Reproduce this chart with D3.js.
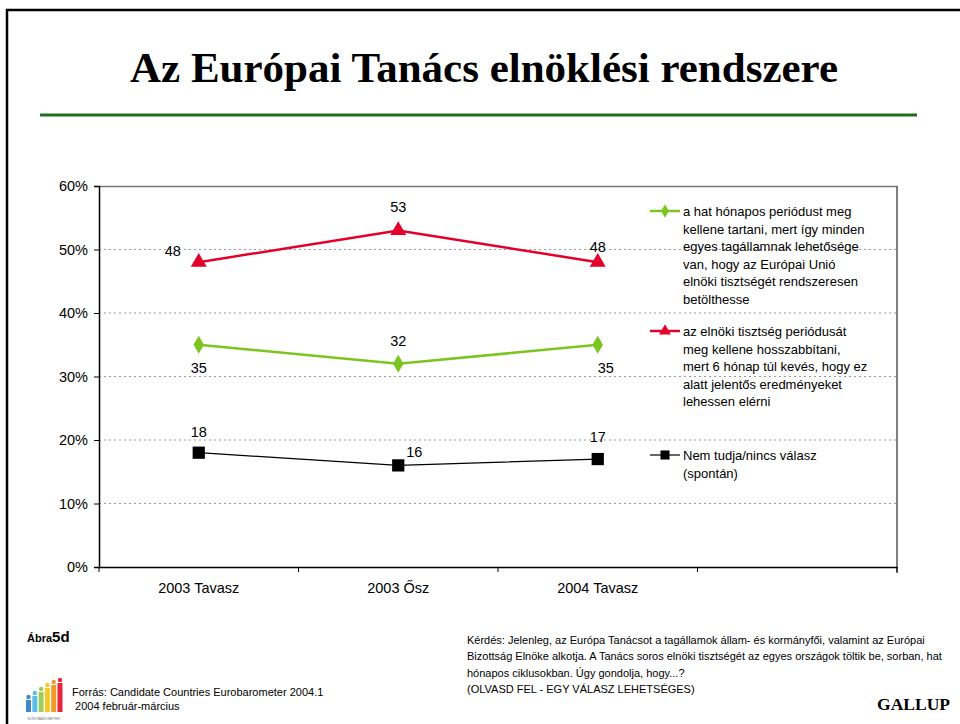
<!DOCTYPE html>
<html><head><meta charset="utf-8">
<script src="https://cdn.jsdelivr.net/npm/d3@7"></script>
<style>
html,body{margin:0;padding:0;background:#fff;}
svg{display:block;}
text{font-family:"Liberation Sans",Arial,sans-serif;}
</style></head>
<body>
<svg id="c" width="960" height="724"></svg>
<script>
const categories = ["2003 Tavasz", "2003 Ősz", "2004 Tavasz", ""];
const keepSix = [35, 32, 35];
const extend = [48, 53, 48];
const dontKnow = [18, 16, 17];
const yTicks = [0, 10, 20, 30, 40, 50, 60];
const legendGreen = ["a hat hónapos periódust meg", "kellene tartani, mert így minden", "egyes tagállamnak lehetősége", "van, hogy az Európai Unió", "elnöki tisztségét rendszeresen", "betölthesse"];
const legendRed = ["az elnöki tisztség periódusát", "meg kellene hosszabbítani,", "mert 6 hónap túl kevés, hogy ez", "alatt jelentős eredményeket", "lehessen elérni"];
const legendBlack = ["Nem tudja/nincs válasz", "(spontán)"];
const question = ["Kérdés: Jelenleg, az Európa Tanácsot a tagállamok állam- és kormányfői, valamint az Európai", "Bizottság Elnöke alkotja. A Tanács soros elnöki tisztségét az egyes országok töltik be, sorban, hat", "hónapos ciklusokban. Úgy gondolja, hogy...?", "(OLVASD FEL - EGY VÁLASZ LEHETSÉGES)"];
const source = ["Forrás: Candidate Countries Eurobarometer 2004.1", " 2004  február-március"];

const svg = d3.select("#c");

// page frame (top + left)
svg.append("line").attr("x1",6).attr("x2",960).attr("y1",10).attr("y2",10).attr("stroke","#000").attr("stroke-width",2.5);
svg.append("line").attr("x1",7).attr("x2",7).attr("y1",9).attr("y2",724).attr("stroke","#000").attr("stroke-width",2.5);

// title
svg.append("text").attr("x",484).attr("y",82).attr("text-anchor","middle")
  .style("font-family","'Liberation Serif','Times New Roman',serif").style("font-weight","bold").style("font-size","43px")
  .text("Az Európai Tanács elnöklési rendszere");
svg.append("line").attr("x1",40).attr("x2",917).attr("y1",115).attr("y2",115).attr("stroke","#1e6e1e").attr("stroke-width",3);

// scales
const L=99, R=897, T=186, B=567;
const x = d3.scaleBand().domain(categories).range([L,R]).padding(0);
const y = d3.scaleLinear().domain([0,60]).range([B,T]);
const cx = i => x(categories[i]) + x.bandwidth()/2;

// gridlines
svg.append("g").selectAll("line").data(yTicks.filter(t=>t>0 && t<60)).join("line")
  .attr("x1",L).attr("x2",R).attr("y1",d=>y(d)).attr("y2",d=>y(d))
  .attr("stroke","#999").attr("stroke-width",1).attr("stroke-dasharray","2,3");
// plot top & right border
svg.append("line").attr("x1",L).attr("x2",R).attr("y1",T+0.5).attr("y2",T+0.5).attr("stroke","#777").attr("stroke-width",1.5);
svg.append("line").attr("x1",R).attr("x2",R).attr("y1",T).attr("y2",B+6).attr("stroke","#555").attr("stroke-width",1.5);

// axes
const yAxis = d3.axisLeft(y).tickValues(yTicks).tickFormat(d=>d+"%").tickSize(5).tickPadding(6);
const gy = svg.append("g").attr("transform",`translate(${L},0)`).call(yAxis);
gy.select(".domain").attr("stroke","#000").attr("stroke-width",1.5);
gy.selectAll("text").style("font-size","14.5px").style("font-family","'Liberation Sans',Arial,sans-serif").attr("fill","#000");

const xAxis = d3.axisBottom(x).tickSize(0).tickPadding(16);
const gx = svg.append("g").attr("transform",`translate(0,${B})`).call(xAxis);
gx.select(".domain").attr("stroke","#000").attr("stroke-width",1.5);
gx.selectAll("text").style("font-size","14.5px").style("font-family","'Liberation Sans',Arial,sans-serif").attr("fill","#000");
// band boundary ticks
svg.append("g").selectAll("line").data(categories.map(c=>x(c)).concat([R])).join("line")
  .attr("x1",d=>d).attr("x2",d=>d).attr("y1",B).attr("y2",B+5).attr("stroke","#000").attr("stroke-width",1);

// lines
const line = d3.line().x((d,i)=>cx(i)).y(d=>y(d));
const series = [
  {vals: extend, color:"#e3002b", w:2.5, sym:d3.symbolTriangle, size:110},
  {vals: keepSix, color:"#7cc520", w:2.5, sym:d3.symbolDiamond, size:95},
  {vals: dontKnow, color:"#000", w:1.2, sym:d3.symbolSquare, size:150}
];
series.forEach(s=>{
  svg.append("path").datum(s.vals).attr("d",line).attr("fill","none").attr("stroke",s.color).attr("stroke-width",s.w);
  svg.append("g").selectAll("path").data(s.vals).join("path")
    .attr("transform",(d,i)=>`translate(${cx(i)},${y(d)})`)
    .attr("d",d3.symbol(s.sym,s.size)).attr("fill",s.color);
});

// data labels
function lab(xx,yy,t){ svg.append("text").attr("x",xx).attr("y",yy).attr("text-anchor","middle").style("font-size","14.5px").attr("fill","#000").text(t); }
// red
lab(cx(0)-26, y(extend[0])-6, extend[0]);
lab(cx(1), y(extend[1])-18, extend[1]);
lab(cx(2), y(extend[2])-10, extend[2]);
// green
lab(cx(0), y(keepSix[0])+28, keepSix[0]);
lab(cx(1), y(keepSix[1])-18, keepSix[1]);
lab(cx(2)+8, y(keepSix[2])+28, keepSix[2]);
// black
lab(cx(0), y(dontKnow[0])-16, dontKnow[0]);
lab(cx(1)+16, y(dontKnow[1])-8, dontKnow[1]);
lab(cx(2), y(dontKnow[2])-17, dontKnow[2]);

// legend
function legend(y0, lines, s){
  svg.append("line").attr("x1",650).attr("x2",680).attr("y1",y0).attr("y2",y0).attr("stroke",s.color).attr("stroke-width",s.w);
  svg.append("path").attr("transform",`translate(665,${y0})`).attr("d",d3.symbol(s.sym,s.size*0.55)).attr("fill",s.color);
  const t = svg.append("text").style("font-size","13px").attr("fill","#000");
  lines.forEach((l,i)=>t.append("tspan").attr("x",683).attr("y",y0+5+i*17.5).text(l));
}
legend(211, legendGreen, series[1]);
legend(331, legendRed, series[0]);
legend(455, legendBlack, series[2]);

// footer
const ab = svg.append("text").attr("x",27).attr("y",642).style("font-weight","bold").attr("fill","#000");
ab.append("tspan").style("font-size","11px").text("Ábra");
ab.append("tspan").style("font-size","15px").text("5d");

const q = svg.append("text").style("font-size","11px").attr("fill","#000");
question.forEach((l,i)=>q.append("tspan").attr("x",467).attr("y",644+i*16.4).text(l));

const so = svg.append("text").style("font-size","11px").attr("fill","#000");
source.forEach((l,i)=>so.append("tspan").attr("x",72).attr("y",696).attr("y",696+i*13.5).text(l));

svg.append("text").attr("x",950).attr("y",710).attr("text-anchor","end")
  .style("font-family","'Liberation Serif','Times New Roman',serif").style("font-weight","bold").style("font-size","17.5px")
  .text("GALLUP");

// logo
const logoCols = ["#1e73be","#3fb3e0","#8cc63f","#f2c200","#f08a00","#e3001b"];
const logoH = [12, 16, 20, 24, 27, 29];
logoCols.forEach((c,i)=>{
  const bx = 26 + i*6.3;
  svg.append("rect").attr("x",bx).attr("y",712-logoH[i]).attr("width",5).attr("height",logoH[i]).attr("fill",c).attr("opacity",0.85);
  svg.append("circle").attr("cx",bx+2.5).attr("cy",712-logoH[i]-3).attr("r",2.2).attr("fill",c).attr("opacity",0.85);
});
svg.append("text").attr("x",44).attr("y",720).attr("text-anchor","middle").style("font-size","3.5px").attr("fill","#777").text("EUROBAROMETER");
</script>
</body></html>
